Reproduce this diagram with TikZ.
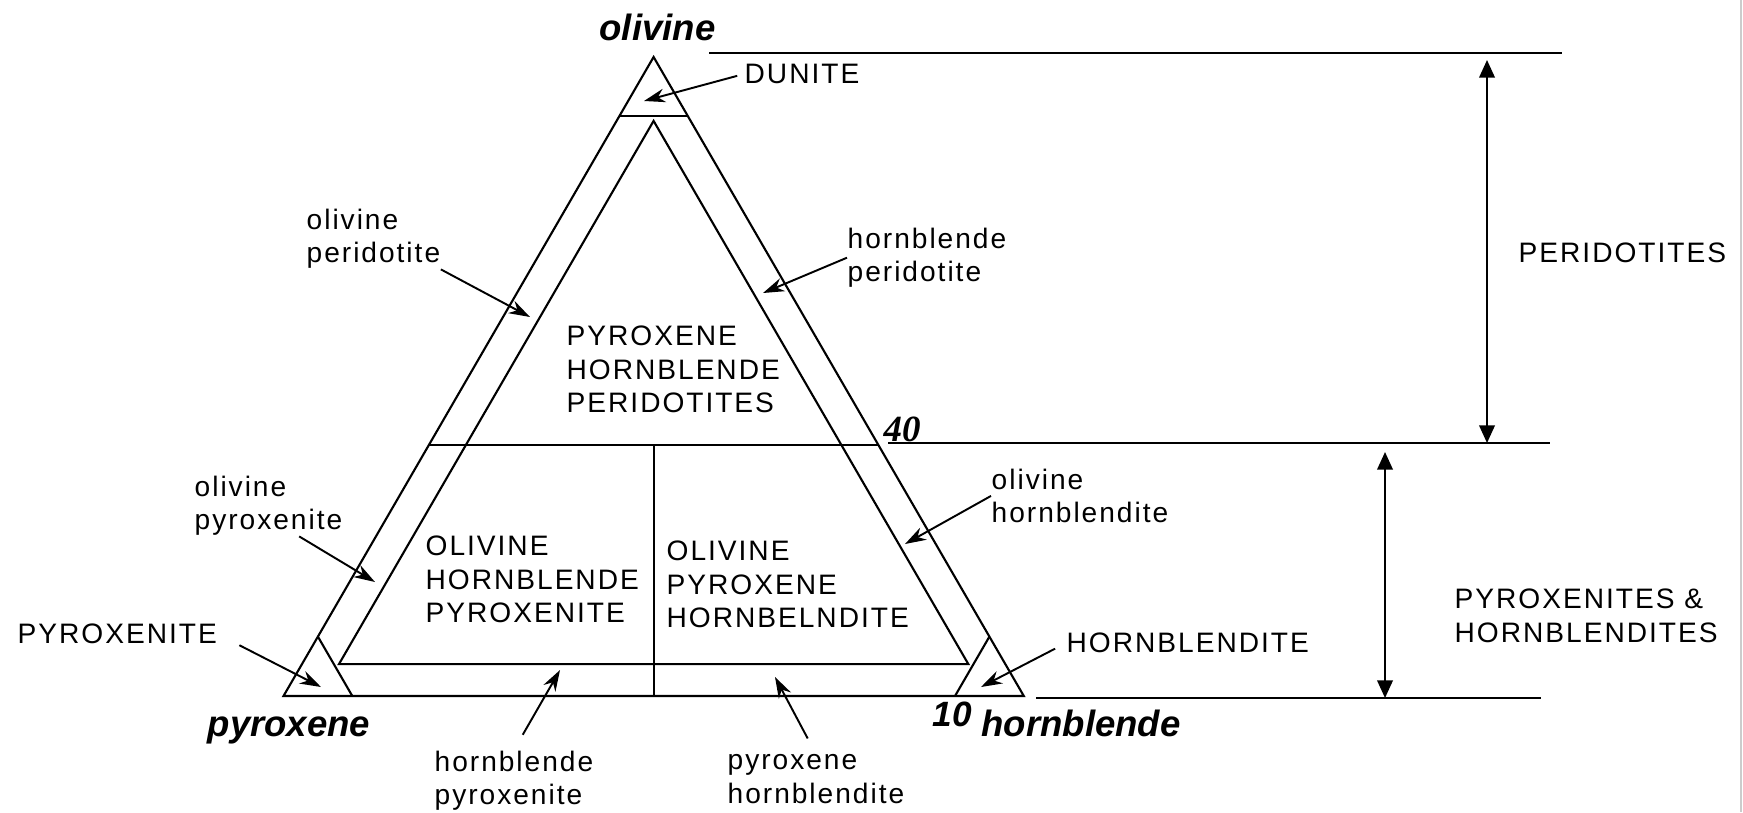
\documentclass[tikz,border=0pt]{standalone}
\usepackage{fontspec}
\setmainfont{Liberation Sans}
\newfontfamily\labfont{Liberation Sans}[LetterSpace=7]
\newfontfamily\numfont{Liberation Serif}
\usetikzlibrary{arrows.meta}

\begin{document}
\begin{tikzpicture}[x=0.01cm,y=-0.01cm,
  rock/.style={font=\labfont\fontsize{8}{9.6}\selectfont,inner sep=0pt,align=left},
  corner/.style={font=\bfseries\itshape\fontsize{10.4}{12}\selectfont,inner sep=0pt,anchor=base},
  pct/.style={font=\numfont\bfseries\itshape\fontsize{10.5}{12}\selectfont,inner sep=0pt,anchor=base},
  ptr/.style={-{Stealth[length=6pt,width=3.9pt]},line width=0.55pt},
  spanarr/.style={{Triangle[length=5pt,width=4.4pt]}-{Triangle[length=5pt,width=4.4pt]},line width=0.6pt},
  tline/.style={line width=0.6pt}]
\useasboundingbox (0,0) rectangle (1743,812);
\draw[black!20] (1741,0) -- (1741,812);
% end members
\coordinate (O) at (653.6,57);
\coordinate (P) at (283.5,696);
\coordinate (H) at (1023.8,696);
\draw[tline] (O) -- (P) -- (H) -- cycle;
\node[corner] (ol) at (657.5,40.7) {olivine};
\node[corner] (px) at (289,736.7) {pyroxene};
\node[corner] (hb) at (1081,736.7) {hornblende};
\node[corner,font=\bfseries\itshape\fontsize{10}{12}\selectfont] (p10) at (952,726.7) {10};
\node[pct] (p40) at (902,441.7) {40};
% 90 % corners
\draw[tline] (619.2,116.4) -- (688.0,116.4);
\draw[tline] (352.3,696) -- (317.9,636.6);
\draw[tline] (955.0,696) -- (989.4,636.6);
% 5 % bands
\draw[tline] (653.6,120.9) -- (339.0,664.05) -- (968.3,664.05) -- cycle;
% 40 % olivine, px = hb
\draw[tline] (428.9,445) -- (878.4,445);
\draw[tline] (653.6,445) -- (653.6,696);
% ranges at the right
\draw[tline] (709,53) -- (1562,53);
\draw[tline] (888,443) -- (1550,443);
\draw[tline] (1036,698) -- (1541,698);
\coordinate (r1a) at (1487,60);
\coordinate (r1b) at (1487,443);
\coordinate (r2a) at (1385,452);
\coordinate (r2b) at (1385,698);
\draw[spanarr] (r1a) -- (r1b);
\draw[spanarr] (r2a) -- (r2b);
\node[rock,anchor=west] (perid) at (1518,253) {PERIDOTITES};
\node[rock,anchor=north west] (pxhbites) at (1454,588) {PYROXENITES \&\\HORNBLENDITES};
% fields
\node[rock,anchor=north west] (pxhbper) at (566,325) {PYROXENE\\HORNBLENDE\\PERIDOTITES};
\node[rock,anchor=north west] (olhbpx) at (425,535) {OLIVINE\\HORNBLENDE\\PYROXENITE};
\node[rock,anchor=north west] (olpxhb) at (666,540) {OLIVINE\\PYROXENE\\HORNBELNDITE};
% pointed fields
\node[rock,anchor=west] (dun) at (744,74) {DUNITE};
\node[rock,anchor=north west] (olper) at (306,208) {olivine\\peridotite};
\node[rock,anchor=north west] (hbper) at (847,227) {hornblende\\peridotite};
\node[rock,anchor=north west] (olpx) at (194,475) {olivine\\pyroxenite};
\node[rock,anchor=north west] (olhb) at (991,468) {olivine\\hornblendite};
\node[rock,anchor=west] (pyx) at (17,634) {PYROXENITE};
\node[rock,anchor=west] (hbite) at (1066,643) {HORNBLENDITE};
\node[rock,anchor=north west] (hbpx) at (434,750) {hornblende\\pyroxenite};
\node[rock,anchor=north west] (pxhb) at (727,754) {pyroxene\\hornblendite};
\coordinate (dunT) at (644,101);
\coordinate (olperT) at (530,317);
\coordinate (hbperT) at (763,293);
\coordinate (olpxT) at (375,582);
\coordinate (olhbT) at (905,544);
\coordinate (pyxT) at (321,687);
\coordinate (hbiteT) at (981,687);
\coordinate (hbpxT) at (560,670);
\coordinate (pxhbT) at (775,677);
\draw[ptr,shorten <=2pt] (dun.west) -- (dunT);
\draw[ptr] (olper.south east) -- (olperT);
\draw[ptr] (hbper.west) -- (hbperT);
\draw[ptr] (olpx.-45) -- (olpxT);
\draw[ptr] (olhb.west) -- (olhbT);
\draw[ptr,shorten <=7pt] (pyx.east) -- (pyxT);
\draw[ptr,shorten <=3.5pt] (hbite.west) -- (hbiteT);
\draw[ptr,shorten <=5pt] (hbpx.north) -- (hbpxT);
\draw[ptr,shorten <=5pt] (pxhb.north) -- (pxhbT);
\end{tikzpicture}
\end{document}
